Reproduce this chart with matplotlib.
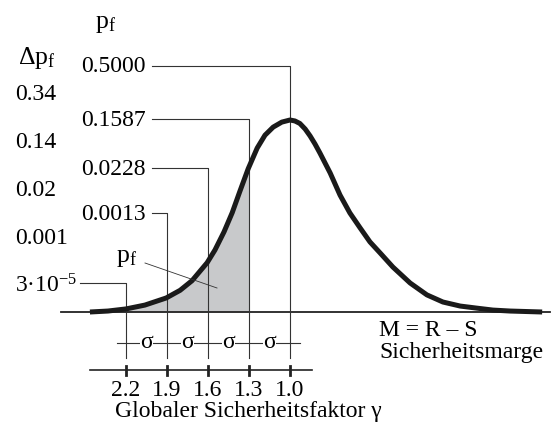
import numpy as np
import matplotlib.pyplot as plt
from matplotlib.patches import Rectangle

plt.rcParams['font.family'] = ['Liberation Serif', 'DejaVu Serif']
plt.rcParams['mathtext.fontset'] = 'custom'
plt.rcParams['mathtext.rm'] = 'Liberation Serif'
plt.rcParams['mathtext.it'] = 'Liberation Serif:italic'

# density of M = R - S, x in sigma steps from the gamma=2.2 line, y relative to the peak
curve_u = np.array([-0.88, -0.44, 0.0, 0.46, 0.98, 1.32, 1.61, 1.98, 2.17, 2.39, 2.59, 2.78,
                    2.98, 3.20, 3.39, 3.59, 3.80, 4.0, 4.12, 4.24, 4.37, 4.49, 4.61, 4.73,
                    4.98, 5.22, 5.46, 5.71, 5.95, 6.20, 6.51, 6.93, 7.34, 7.73, 8.15, 8.56,
                    8.95, 9.37, 10.15])
curve_h = np.array([0.0, 0.005, 0.016, 0.036, 0.073, 0.113, 0.163, 0.257, 0.323, 0.417, 0.517, 0.630,
                    0.746, 0.854, 0.921, 0.963, 0.989, 1.0, 0.995, 0.982, 0.953, 0.917, 0.875, 0.828,
                    0.724, 0.609, 0.516, 0.438, 0.365, 0.307, 0.234, 0.151, 0.089, 0.052, 0.031, 0.020,
                    0.010, 0.005, 0.0])

gamma_labels = ['2.2', '1.9', '1.6', '1.3', '1.0']
pf_labels = ['3·10$^{\\mathrm{-5}}$', '0.0013', '0.0228', '0.1587', '0.5000']
dpf_labels = ['0.34', '0.14', '0.02', '0.001']

# layout helpers (pixel grid of the 557x423 picture -> data coords)
X0, SIG, Y0, HPK = 126.0, 41.0, 312.0, 192.0
def px(x):
    return (x - X0) / SIG
def py(y):
    return (Y0 - y) / HPK

FS = 17
LC = '#333333'

fig = plt.figure(figsize=(5.57, 4.23), dpi=100)
ax = fig.add_axes([0, 0, 1, 1])
ax.set_xlim(px(0), px(557))
ax.set_ylim(py(423), py(0))
ax.axis('off')

# shaded failure area (left of gamma = 1.3)
fill = ax.fill_between(curve_u, 0, curve_h, color='#c8c9cb', lw=0, zorder=1)
clip = Rectangle((curve_u[0], 0), 3.0 - curve_u[0], 1.2, transform=ax.transData)
fill.set_clip_path(clip)

# baseline
ax.plot([px(61), px(550)], [0, 0], color='#222222', lw=1.3, zorder=2)

# leader lines for p_f values
level_y = [283, 213, 168, 119, 66]
start_x = [80, 152, 152, 152, 152]
for i, lab in enumerate(pf_labels):
    ax.plot([px(start_x[i]), i, i], [py(level_y[i]), py(level_y[i]), py(358)],
            color=LC, lw=0.8, zorder=2)
    if i == 0:
        ax.text(px(15), py(level_y[i] + 3), lab, fontsize=FS, ha='left', va='center')
    else:
        ax.text(px(146), py(level_y[i] + 1), lab, fontsize=FS, ha='right', va='center')

# delta p_f column
dpf_y = [95, 142, 190, 238]
for lab, yy in zip(dpf_labels, dpf_y):
    ax.text(px(15), py(yy), lab, fontsize=FS, ha='left', va='center')
ax.text(px(18), py(58), '$\\Delta\\mathrm{p}_\\mathrm{f}$', fontsize=FS + 1.5, ha='left', va='center')
ax.text(px(106), py(24), '$\\mathrm{p}_\\mathrm{f}$', fontsize=FS + 1.5, ha='center', va='center')

# curve
ax.plot(curve_u, curve_h, color='#1a1a1a', lw=3.6, solid_capstyle='butt',
        solid_joinstyle='round', zorder=3)

# p_f label inside area
ax.text(px(127), py(258), '$\\mathrm{p}_\\mathrm{f}$', fontsize=FS + 1.5, ha='center', va='center')
ax.plot([px(145), px(217)], [py(263), py(288)], color=LC, lw=0.6, zorder=4)

# sigma row
ax.plot([px(117), px(300)], [py(343), py(343)], color=LC, lw=0.8, zorder=2)
for i in range(4):
    ax.text(i + 0.5, py(342), 'σ', fontsize=FS, ha='center', va='center', zorder=3,
            bbox=dict(boxstyle='square,pad=0.02', fc='white', ec='none'))

# gamma axis
ax.plot([px(90), px(312)], [py(370), py(370)], color='#222222', lw=1.2)
for i, lab in enumerate(gamma_labels):
    ax.plot([i, i], [py(366), py(375)], color='#222222', lw=2)
    ax.text(i, py(390), lab, fontsize=FS, ha='center', va='center')
ax.text(px(115), py(411), 'Globaler Sicherheitsfaktor γ', fontsize=FS, ha='left', va='center')

ax.text(px(379), py(330), 'M = R – S', fontsize=FS, ha='left', va='center')
ax.text(px(379), py(352), 'Sicherheitsmarge', fontsize=FS, ha='left', va='center')

fig.savefig('out.png', dpi=100)
